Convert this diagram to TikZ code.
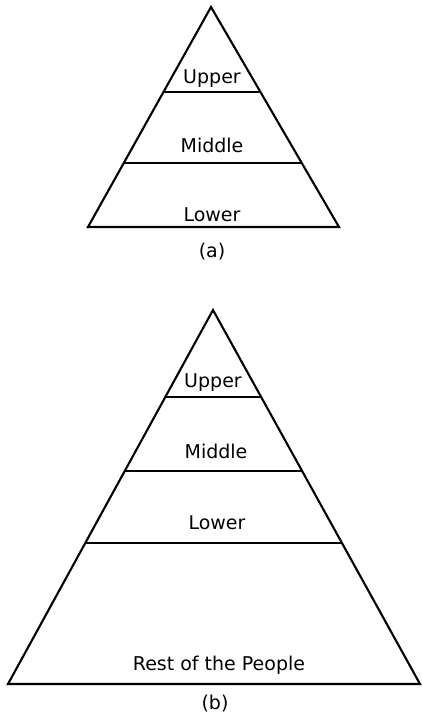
\documentclass[tikz,border=0pt]{standalone}
\usepackage{fontspec}
\setsansfont{DejaVu Sans}
\usetikzlibrary{calc}

\begin{document}
\begin{tikzpicture}[x=1pt,y=-1pt,
edge/.style={line width=2.1pt},
lbl/.style={font=\sffamily\fontsize{19}{22}\selectfont,anchor=base,inner sep=0pt}]
\useasboundingbox (0,0) rectangle (422,716);
% pyramid (a)
\coordinate (aT) at (211,7);\coordinate (aL) at (88,227);\coordinate (aR) at (339,227);
\draw[edge] (aT)--(aL)--(aR)--cycle;
\draw[edge] ($(aT)!0.386!(aL)$) -- ($(aT)!0.386!(aR)$);
\draw[edge] ($(aT)!0.709!(aL)$) -- ($(aT)!0.709!(aR)$);
\node[lbl] (aUp) at (212,83) {Upper};
\node[lbl] (aMid) at (212,152) {Middle};
\node[lbl] (aLow) at (212,221) {Lower};
\node[lbl] (aCap) at (212,257) {(a)};
% pyramid (b)
\coordinate (bT) at (213,310);\coordinate (bL) at (8,684);\coordinate (bR) at (420,684);
\draw[edge] (bT)--(bL)--(bR)--cycle;
\draw[edge] ($(bT)!0.233!(bL)$) -- ($(bT)!0.233!(bR)$);
\draw[edge] ($(bT)!0.430!(bL)$) -- ($(bT)!0.430!(bR)$);
\draw[edge] ($(bT)!0.623!(bL)$) -- ($(bT)!0.623!(bR)$);
\node[lbl] (bUp) at (213,387) {Upper};
\node[lbl] (bMid) at (216,458) {Middle};
\node[lbl] (bLow) at (217,529) {Lower};
\node[lbl] (bRest) at (219,670) {Rest of the People};
\node[lbl] (bCap) at (215,709) {(b)};
\end{tikzpicture}
\end{document}
